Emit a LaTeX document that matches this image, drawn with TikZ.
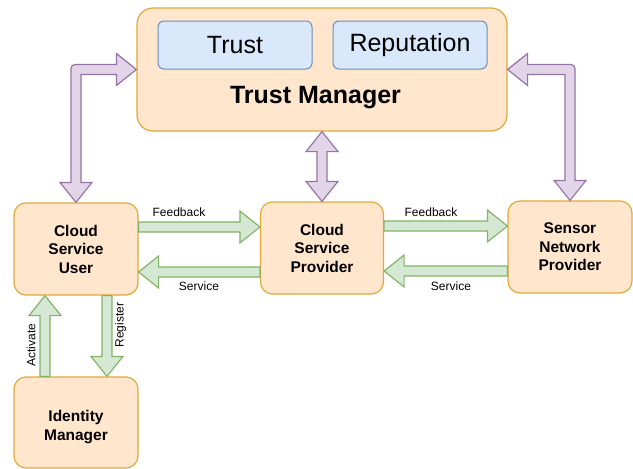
\documentclass[tikz,border=0pt]{standalone}
\usepackage{fontspec}
\setmainfont{Liberation Sans}
\usetikzlibrary{calc}
\definecolor{ofill}{HTML}{FFE6CC}
\definecolor{odraw}{HTML}{E0A93A}
\definecolor{bfill}{HTML}{DAE8FC}
\definecolor{bdraw}{HTML}{6C8EBF}
\definecolor{pfill}{HTML}{E1D5E7}
\definecolor{pdraw}{HTML}{9673A6}
\definecolor{gfill}{HTML}{D5E8D4}
\definecolor{gdraw}{HTML}{82B366}
\tikzset{
  obox/.style={draw=odraw, fill=ofill, line width=1.2pt, rounded corners=12pt, align=center,
    font=\fontsize{15.5}{18.5}\selectfont\bfseries, inner sep=0pt, minimum width=124pt, minimum height=92pt},
  bbox/.style={draw=bdraw, fill=bfill, line width=1pt, rounded corners=6pt, minimum width=154pt,
    minimum height=48pt, font=\fontsize{25}{28}\selectfont, inner sep=0pt},
  parrow/.style={draw=pdraw, fill=pfill, line width=1.2pt, line join=miter},
  garrow/.style={draw=gdraw, fill=gfill, line width=1.2pt, line join=miter},
  lbl/.style={font=\fontsize{12}{14}\selectfont, inner sep=0pt},
}
\newcommand\arrR[3]{\draw[#1] ($(#2)+(0,-5)$) -- ($(#3)+(-20,-5)$) -- ($(#3)+(-20,-16)$) -- (#3) -- ($(#3)+(-20,16)$) -- ($(#3)+(-20,5)$) -- ($(#2)+(0,5)$) -- cycle;}
\newcommand\arrL[3]{\draw[#1] ($(#2)+(0,-5)$) -- ($(#3)+(20,-5)$) -- ($(#3)+(20,-16)$) -- (#3) -- ($(#3)+(20,16)$) -- ($(#3)+(20,5)$) -- ($(#2)+(0,5)$) -- cycle;}
\newcommand\arrU[3]{\draw[#1] ($(#2)+(-5,0)$) -- ($(#3)+(-5,20)$) -- ($(#3)+(-16,20)$) -- (#3) -- ($(#3)+(16,20)$) -- ($(#3)+(5,20)$) -- ($(#2)+(5,0)$) -- cycle;}
\newcommand\arrD[3]{\draw[#1] ($(#2)+(-5,0)$) -- ($(#3)+(-5,-20)$) -- ($(#3)+(-16,-20)$) -- (#3) -- ($(#3)+(16,-20)$) -- ($(#3)+(5,-20)$) -- ($(#2)+(5,0)$) -- cycle;}
\begin{document}
\begin{tikzpicture}[x=1pt, y=-1pt]
\useasboundingbox (0,0) rectangle (633,469);
% boxes
\node[obox, rounded corners=16pt, minimum width=370pt, minimum height=123pt] (tm) at (322,69.5) {};
\node[bbox] (trust) at (235,45) {Trust};
\node[bbox] (rep) at (410,45) {Reputation};
\node[font=\fontsize{25}{28}\selectfont\bfseries, inner sep=0pt] (tml) at (315.5,98) {Trust Manager};
\node[obox] (csu) at (76,249) {Cloud\\Service\\User};
\node[obox, minimum width=123pt] (csp) at (322,248) {Cloud\\Service\\Provider};
\node[obox] (snp) at (570,247) {Sensor\\Network\\Provider};
\node[obox, minimum height=91pt] (im) at (76,422.5) {};
\node[font=\fontsize{15.5}{18.5}\selectfont\bfseries, align=center, inner sep=0pt] (imt) at (76,427) {Identity\\Manager};
% purple arrows
\coordinate (cl) at (csu.north |- tm.west);
\draw[parrow] (tm.west) -- ($(tm.west)+(-20,-16)$) -- ($(tm.west)+(-20,-5)$)
  [rounded corners=4pt] -- ($(cl)+(-5,-5)$) [sharp corners] -- ($(csu.north)+(-5,-20)$) -- ($(csu.north)+(-16,-20)$)
  -- (csu.north) -- ($(csu.north)+(16,-20)$) -- ($(csu.north)+(5,-20)$) -- ($(cl)+(5,5)$)
  -- ($(tm.west)+(-20,5)$) -- ($(tm.west)+(-20,16)$) -- cycle;
\coordinate (cr) at (snp.north |- tm.east);
\draw[parrow] (tm.east) -- ($(tm.east)+(20,-16)$) -- ($(tm.east)+(20,-5)$)
  [rounded corners=4pt] -- ($(cr)+(5,-5)$) [sharp corners] -- ($(snp.north)+(5,-20)$) -- ($(snp.north)+(16,-20)$)
  -- (snp.north) -- ($(snp.north)+(-16,-20)$) -- ($(snp.north)+(-5,-20)$) -- ($(cr)+(-5,5)$)
  -- ($(tm.east)+(20,5)$) -- ($(tm.east)+(20,16)$) -- cycle;
\draw[parrow] (tm.south) -- ($(tm.south)+(16,20)$) -- ($(tm.south)+(5,20)$) -- ($(csp.north)+(5,-20)$)
  -- ($(csp.north)+(16,-20)$) -- (csp.north) -- ($(csp.north)+(-16,-20)$) -- ($(csp.north)+(-5,-20)$)
  -- ($(tm.south)+(-5,20)$) -- ($(tm.south)+(-16,20)$) -- cycle;
% green arrows
\coordinate (fb1s) at ($(csu.east)+(0,-22)$);
\coordinate (fb1e) at (csp.west |- fb1s);
\arrR{garrow}{fb1s}{fb1e}
\coordinate (sv1s) at ($(csp.west)+(0,24)$);
\coordinate (sv1e) at (csu.east |- sv1s);
\arrL{garrow}{sv1s}{sv1e}
\coordinate (fb2s) at ($(csp.east)+(0,-22)$);
\coordinate (fb2e) at (snp.west |- fb2s);
\arrR{garrow}{fb2s}{fb2e}
\coordinate (sv2s) at ($(snp.west)+(0,24)$);
\coordinate (sv2e) at (csp.east |- sv2s);
\arrL{garrow}{sv2s}{sv2e}
\coordinate (acs) at ($(im.north)+(-31,0)$);
\coordinate (ace) at (csu.south -| acs);
\arrU{garrow}{acs}{ace}
\coordinate (rgs) at ($(csu.south)+(31,0)$);
\coordinate (rge) at (im.north -| rgs);
\arrD{garrow}{rgs}{rge}
% labels
\node[lbl] (lfb1) at (179,212) {Feedback};
\node[lbl] (lsv1) at (199,286) {Service};
\node[lbl] (lfb2) at (431,212) {Feedback};
\node[lbl] (lsv2) at (451,286) {Service};
\node[lbl, rotate=90] (lac) at (31,345) {Activate};
\node[lbl, rotate=90] (lrg) at (120.5,325) {Register};
\end{tikzpicture}
\end{document}
